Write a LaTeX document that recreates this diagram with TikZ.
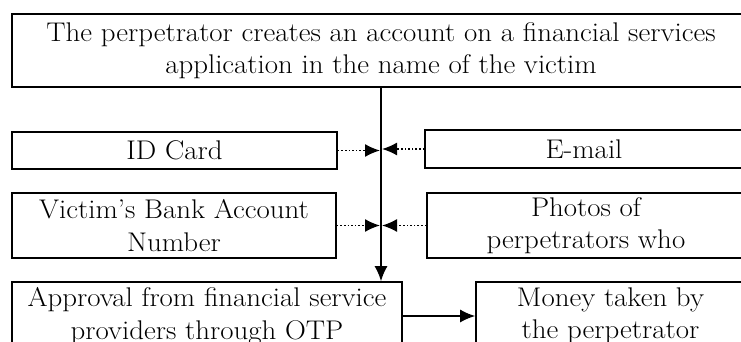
\documentclass[tikz,border=0pt]{standalone}
\usepackage{fontspec}
\setmainfont{Latin Modern Roman}[FakeStretch=1.07]
\usetikzlibrary{arrows.meta}
\begin{document}
\begin{tikzpicture}[x=1pt,y=1pt,
  box/.style={draw, line width=1.6pt, inner sep=0pt, align=center, font=\fontsize{27}{32.5}\selectfont},
  solidarrow/.style={line width=1.6pt, -{Latex[length=15pt,width=13pt]}},
  dotarrow/.style={line width=1.6pt, dotted, -{Latex[length=15pt,width=13pt]}}]
\useasboundingbox (0,0) rectangle (741,342);
\node[box, minimum width=738, minimum height=73] (top) at (381,291.5)
  {The perpetrator creates an account on a financial services\\application in the name of the victim};
\node[box, minimum width=325, minimum height=37] (id) at (174.5,191.5) {ID Card};
\node[box, minimum width=318, minimum height=38] (mail) at (584,193) {E-mail};
\node[box, minimum width=324, minimum height=65] (bank) at (174,116.5) {Victim's Bank Account\\Number};
\node[box, minimum width=318, minimum height=65] (photo) at (586,116.5) {Photos of\\perpetrators who};
\node[box, minimum width=390, minimum height=68] (appr) at (207,26) {Approval from financial service\\providers through OTP};
\node[box, minimum width=269, minimum height=68] (money) at (610.5,26) {Money taken by\\the perpetrator};
\coordinate (lineend) at (top.south |- appr.north);
\draw[solidarrow] (top.south) -- (lineend);
\coordinate (p1) at (top.south |- id.east);
\coordinate (p2) at (top.south |- mail.west);
\coordinate (p3) at (top.south |- bank.east);
\coordinate (p4) at (top.south |- photo.west);
\draw[dotarrow] (id.east) -- ([xshift=-1pt]p1);
\draw[dotarrow] (mail.west) -- ([xshift=1pt]p2);
\draw[dotarrow] (bank.east) -- ([xshift=-1pt]p3);
\draw[dotarrow] (photo.west) -- ([xshift=1pt]p4);
\draw[solidarrow] (appr.east) -- (money.west);
\end{tikzpicture}
\end{document}
